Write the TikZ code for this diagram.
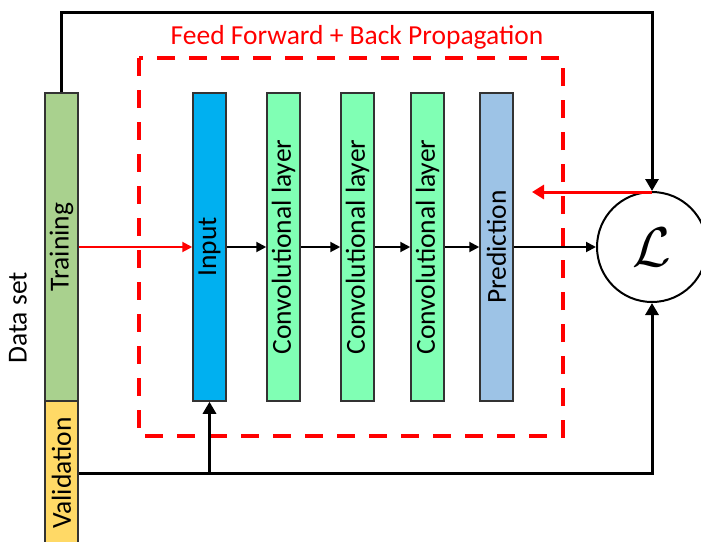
\documentclass[tikz,border=0pt]{standalone}
\usepackage{fontspec}
\setmainfont{Carlito}
\usetikzlibrary{arrows.meta,positioning}

\definecolor{trainclr}{RGB}{169,209,142}
\definecolor{validclr}{RGB}{255,217,102}
\definecolor{inputclr}{RGB}{0,176,240}
\definecolor{convclr}{RGB}{128,255,180}
\definecolor{predclr}{RGB}{157,195,230}

\tikzset{
	layer/.style={draw=black!80, line width=1.5pt, rotate=90, minimum width=308pt,
		minimum height=33pt, inner sep=0pt, font=\fontsize{27.5}{28}\selectfont},
	flow/.style={line width=2pt, -{Triangle[length=10pt,width=10pt]}},
	feed/.style={line width=3pt, -{Triangle[length=12pt,width=13pt]}},
	fwd/.style={red, line width=2pt, -{Triangle[length=10pt,width=10pt]}},
	back/.style={red, line width=3pt, -{Triangle[length=12pt,width=14pt]}},
}

\begin{document}
\begin{tikzpicture}[x=1pt, y=-1pt]
			\useasboundingbox (0,0) rectangle (701,541);

			\draw[red, line width=3.5pt, dash pattern=on 18pt off 14pt] (139,58) rectangle (563,436);
			\node[text=red, font=\fontsize{27.5}{28}\selectfont] (title) at (357,37) {Feed Forward + Back Propagation};

			\node[rotate=90, font=\fontsize{27.5}{28}\selectfont] (dataset) at (18,318) {Data set};
			\node[layer, fill=trainclr] (train) at (61.5,247) {Training};
			\node[layer, fill=validclr, minimum width=144pt] (valid) at (61.5,473) {Validation};

			\node[layer, fill=inputclr] (input) at (209.5,247) {Input};
			\node[layer, fill=convclr] (conv1) at (283.5,247) {Convolutional layer};
			\node[layer, fill=convclr] (conv2) at (357.5,247) {Convolutional layer};
			\node[layer, fill=convclr] (conv3) at (427.5,247) {Convolutional layer};
			\node[layer, fill=predclr] (pred) at (496.5,247) {Prediction};

			\node[circle, draw, line width=2pt, minimum size=110pt, inner sep=0pt]
				(loss) at (652,247) {\scalebox{5.6}{$\mathcal{L}$}};

			\draw[fwd] (train) -- (input);
			\draw[flow] (input) -- (conv1);
			\draw[flow] (conv1) -- (conv2);
			\draw[flow] (conv2) -- (conv3);
			\draw[flow] (conv3) -- (pred);
			\draw[flow] (pred) -- (loss);

			\coordinate (topright) at (652,12);
			\draw[feed] (train.east) |- (topright) -- (loss.north);
			\draw[feed] (valid.south) -| (loss.south);
			\draw[feed] (input.west |- valid.south) -- (input.west);

			\coordinate (backend) at (532,192);
			\draw[back] (loss.north) ++(0,1) -- (backend);
		\end{tikzpicture}
\end{document}
